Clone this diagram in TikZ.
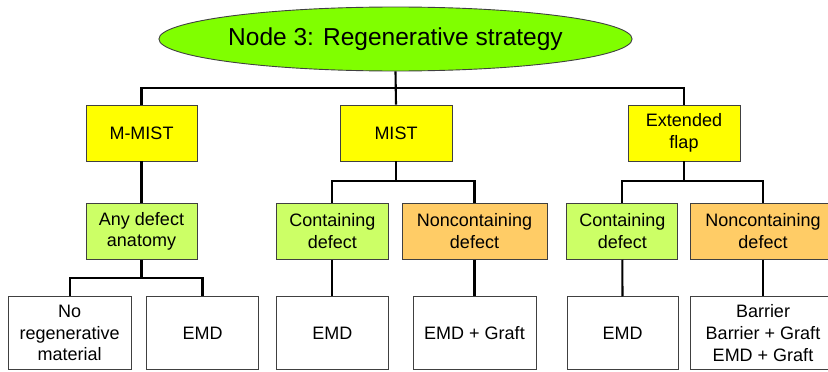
\documentclass[tikz,border=0pt]{standalone}
\usepackage{fontspec}
\setmainfont{Liberation Sans}
\usetikzlibrary{shapes.geometric}
\definecolor{lime}{HTML}{80FF00}
\definecolor{yel}{HTML}{FFFF00}
\definecolor{lgreen}{HTML}{CCFF66}
\definecolor{orng}{HTML}{FFCC66}
\definecolor{bord}{HTML}{404040}
\tikzset{
  box/.style={draw=bord, line width=0.9pt, rectangle, inner sep=1pt, align=center,
    font=\fontsize{18}{21.6}\selectfont, text=black},
  lvl1/.style={box, fill=yel, minimum height=56pt},
  lvl2g/.style={box, fill=lgreen, minimum height=56pt},
  lvl2o/.style={box, fill=orng, minimum height=56pt},
  leaf/.style={box, fill=white, minimum height=72.6pt},
  conn/.style={draw=black, line width=2.1pt},
}
\begin{document}
\begin{tikzpicture}[x=1pt, y=-1pt]
\useasboundingbox (0,0) rectangle (828,372);
\clip (0,0) rectangle (828,372);
\fill[white] (0,0) rectangle (828,372);
% root
\node[ellipse, draw=bord, line width=0.9pt, fill=lime, minimum width=473pt, minimum height=64pt, inner sep=0pt,
  font=\fontsize{24.5}{29}\selectfont] (root) at (395.5,39) {Node 3: Regenerative strategy};
% level 1
\node[lvl1, minimum width=111pt] (mmist) at (141.5,133) {M-MIST};
\node[lvl1, minimum width=112pt] (mist) at (396,133) {MIST};
\node[lvl1, minimum width=112pt] (ext) at (684,133) {Extended\\flap};
% level 2
\node[lvl2g, minimum width=111pt] (any) at (141.5,231.3) {Any defect\\anatomy};
\node[lvl2g, minimum width=112pt] (cont1) at (332.3,231.3) {Containing\\defect};
\node[lvl2o, minimum width=145pt] (nonc1) at (474.5,231.3) {Noncontaining\\defect};
\node[lvl2g, minimum width=111pt] (cont2) at (622.3,231.3) {Containing\\defect};
\node[lvl2o, minimum width=145pt] (nonc2) at (763,231.3) {Noncontaining\\defect};
% leaves
\node[leaf, minimum width=122.7pt] (nomat) at (69.7,333) {No\\regenerative\\material};
\node[leaf, minimum width=111.6pt] (emd1) at (202.5,333) {EMD};
\node[leaf, minimum width=112pt] (emd2) at (332.3,333) {EMD};
\node[leaf, minimum width=123pt] (emdg) at (474.5,333) {EMD + Graft};
\node[leaf, minimum width=111pt] (emd3) at (622.5,333) {EMD};
\node[leaf, minimum width=145pt] (barr) at (763,333) {Barrier\\Barrier + Graft\\EMD + Graft};
% connectors
\coordinate (j0) at (396,88);
\coordinate (j1) at (396,181);
\coordinate (j2) at (684,181);
\coordinate (j3) at (141.5,278.3);
\draw[conn] (root.south) -- (mist.north);
\draw[conn] (mmist.north) |- (j0) -| (ext.north);
\draw[conn] (mmist.south) -- (any.north);
\draw[conn] (mist.south) -- (j1);
\draw[conn] (cont1.north) |- (j1) -| (nonc1.north);
\draw[conn] (ext.south) -- (j2);
\draw[conn] (cont2.north) |- (j2) -| (nonc2.north);
\draw[conn] (any.south) -- (j3);
\draw[conn] (nomat.north) |- (j3) -| (emd1.north);
\draw[conn] (cont1.south) -- (emd2.north);
\draw[conn] (nonc1.south) -- (emdg.north);
\draw[conn] (cont2.south) -- (emd3.north);
\draw[conn] (nonc2.south) -- (barr.north);
\end{tikzpicture}
\end{document}
